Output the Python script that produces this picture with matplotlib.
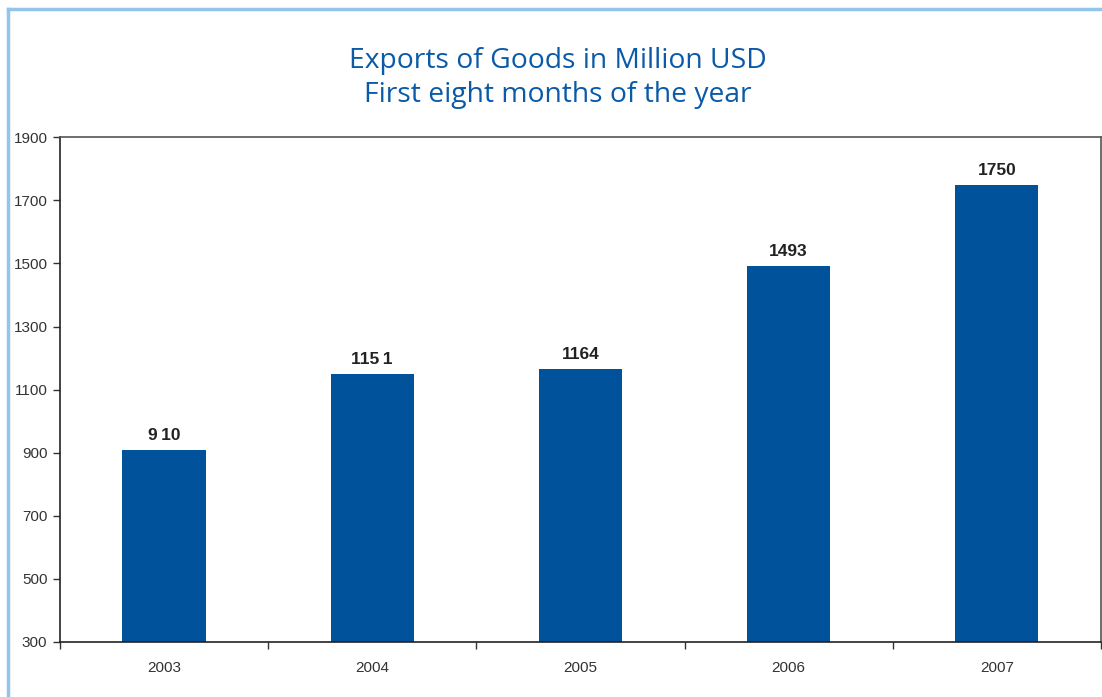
import matplotlib.pyplot as plt
import numpy as np

# exports of goods, first eight months, million USD
years = ['2003', '2004', '2005', '2006', '2007']
exports = [910, 1151, 1164, 1493, 1750]
labels = ['9\u200910', '115\u20091', '1164', '1493', '1750']

bar_color = '#00529b'
title_color = '#0a5aa8'
frame_color = '#93c5ea'

fig = plt.figure(figsize=(11.02, 6.97), dpi=100)
ax = fig.add_axes([0.0544, 0.079, 0.9446, 0.724])

x = np.arange(len(years))
ax.bar(x, exports, width=0.4, color=bar_color, bottom=0)
for xi, v, lab in zip(x, exports, labels):
    ax.text(xi, v + 22, lab, ha='center', va='bottom', fontsize=12.5,
            fontweight='bold', family=['Liberation Sans', 'DejaVu Sans'], color='#222222')

ax.set_xlim(-0.5, len(years) - 0.5)
ax.set_ylim(300, 1900)
ax.set_yticks(range(300, 1901, 200))
ax.set_xticks(x)
ax.set_xticklabels(years)
ax.set_xticks(np.arange(-0.5, len(years)), minor=True)
ax.tick_params(axis='x', which='major', length=0, pad=14)
ax.tick_params(axis='x', which='minor', length=5, width=1, color='#333333', direction='out')
ax.tick_params(axis='y', length=5, width=1, color='#333333', direction='out', pad=4)
for lab in ax.get_xticklabels() + ax.get_yticklabels():
    lab.set_family('Liberation Sans')
    lab.set_fontsize(11)
    lab.set_color('#333333')
for side in ['left', 'bottom']:
    ax.spines[side].set_color('#222222')
    ax.spines[side].set_linewidth(1.2)
for side in ['top', 'right']:
    ax.spines[side].set_color('#555555')
    ax.spines[side].set_linewidth(1.2)

fig.text(0.506, 0.913, 'Exports of Goods in Million USD', ha='center', va='center',
         fontsize=20.3, color=title_color, family='Open Sans')
fig.text(0.506, 0.864, 'First eight months of the year', ha='center', va='center',
         fontsize=20.3, color=title_color, family='Open Sans')

# light blue frame along the top and left edges
fig.add_artist(plt.Line2D([8 / 1102, 1], [1 - 9 / 697, 1 - 9 / 697], color=frame_color,
                          linewidth=2.5, transform=fig.transFigure))
fig.add_artist(plt.Line2D([8 / 1102, 8 / 1102], [0, 1 - 9 / 697], color=frame_color,
                          linewidth=2.5, transform=fig.transFigure))

fig.savefig('out.png', dpi=100)
